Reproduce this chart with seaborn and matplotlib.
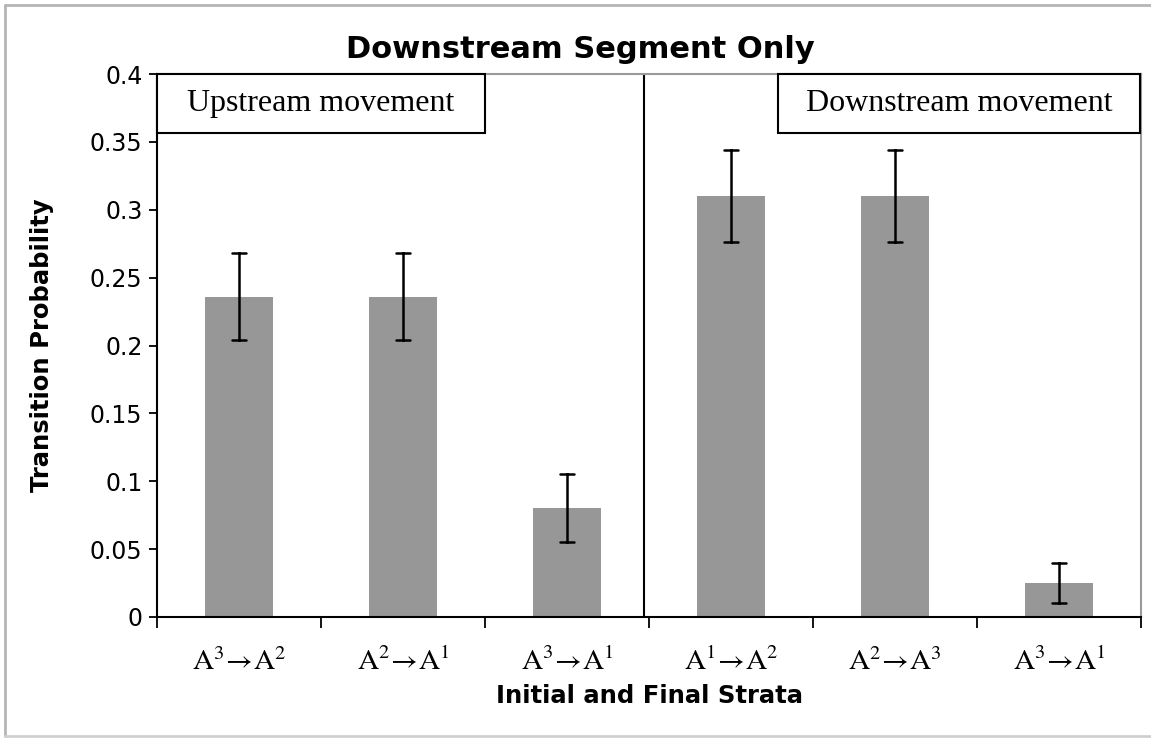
import matplotlib
matplotlib.use("Agg")
import matplotlib.pyplot as plt
import seaborn as sns
import pandas as pd
import numpy as np
from matplotlib.patches import Rectangle
from matplotlib.lines import Line2D

categories = [r"$\mathrm{A}^{3}\!\rightarrow\!\mathrm{A}^{2}$",
              r"$\mathrm{A}^{2}\!\rightarrow\!\mathrm{A}^{1}$",
              r"$\mathrm{A}^{3}\!\rightarrow\!\mathrm{A}^{1}$",
              r"$\mathrm{A}^{1}\!\rightarrow\!\mathrm{A}^{2}$",
              r"$\mathrm{A}^{2}\!\rightarrow\!\mathrm{A}^{3}$",
              r"$\mathrm{A}^{3}\!\rightarrow\!\mathrm{A}^{1}\,$"]
values = [0.236, 0.236, 0.080, 0.310, 0.310, 0.025]
errors = [0.032, 0.032, 0.025, 0.034, 0.034, 0.015]
yticks = [0, 0.05, 0.1, 0.15, 0.2, 0.25, 0.3, 0.35, 0.4]
ytick_labels = ["0", "0.05", "0.1", "0.15", "0.2", "0.25", "0.3", "0.35", "0.4"]
title = "Downstream Segment Only"
xlabel = "Initial and Final Strata"
ylabel = "Transition Probability"
box_left = "Upstream movement"
box_right = "Downstream movement"

# long data: low and high end for each category -> mean is the value, range is the error bar
rows = []
for c, v, e in zip(categories, values, errors):
    rows.append({"cat": c, "val": v - e})
    rows.append({"cat": c, "val": v + e})
df = pd.DataFrame(rows)

sns.set_style("white")
plt.rcParams['font.family'] = ['DejaVu Sans']
plt.rcParams['text.color'] = 'black'
plt.rcParams['axes.labelcolor'] = 'black'
plt.rcParams['xtick.color'] = 'black'
plt.rcParams['ytick.color'] = 'black'
plt.rcParams['mathtext.fontset'] = 'stix'

fig = plt.figure(figsize=(11.51, 7.40), dpi=100)
ax = fig.add_axes([157/1151, 1-617/740, (1141-157)/1151, (617-74)/740])

sns.barplot(data=df, x="cat", y="val", order=categories, ax=ax,
            color="#979797", saturation=1, width=0.41,
            errorbar=lambda x: (x.min(), x.max()), capsize=0.09,
            err_kws={"color": "black", "linewidth": 1.8})
for p in ax.patches:
    p.set_edgecolor("none")

ax.set_ylim(0, 0.4)
ax.set_xlim(-0.5, len(categories) - 0.5)
ax.set_yticks(yticks)
ax.set_yticklabels(ytick_labels, fontsize=17)
ax.tick_params(axis="y", direction="out", length=6, width=1.3, left=True, pad=4.5)

# x ticks at category boundaries, labels at centres
ax.set_xticks(np.arange(-0.5, len(categories), 1.0))
ax.set_xticklabels([])
ax.set_xticks(np.arange(len(categories)), minor=True)
ax.set_xticklabels(categories, minor=True, fontsize=21)
ax.tick_params(axis="x", which="major", direction="out", length=8, width=1.3, bottom=True)
ax.tick_params(axis="x", which="minor", length=0, pad=22)

ax.set_xlabel(xlabel, fontsize=17.5, fontweight="bold")
ax.set_ylabel(ylabel, fontsize=17.5, fontweight="bold")
ax.xaxis.set_label_coords(0.5, -0.123)
ax.yaxis.set_label_coords(-0.105, 0.5)

for s in ["left", "bottom"]:
    ax.spines[s].set_color("black")
    ax.spines[s].set_linewidth(1.5)
for s in ["top", "right"]:
    ax.spines[s].set_visible(True)
    ax.spines[s].set_color("#9a9a9a")
    ax.spines[s].set_linewidth(1.5)

# divider between the two groups
ax.axvline(2.47, color="black", linewidth=1.5)

# boxed annotations
for (x0, x1, txt) in [(0.0, (485-157)/984, box_left), ((778-157)/984, (1140-157)/984, box_right)]:
    y0 = (617-133)/543
    ax.add_patch(Rectangle((x0, y0), x1 - x0, 1 - y0, transform=ax.transAxes,
                           facecolor="white", edgecolor="black", linewidth=1.5, zorder=5,
                           clip_on=False))
    ax.text((x0 + x1) / 2, (y0 + 1) / 2, txt, transform=ax.transAxes, ha="center", va="center",
            fontsize=23, family=["Liberation Serif", "DejaVu Serif"], zorder=6)

fig.text(0.504, 1 - 58/740, title, ha="center", va="baseline", fontsize=22, fontweight="bold")

# outer frame
fig.add_artist(Line2D([5/1151, 5/1151], [1-5/740, 1-736/740], transform=fig.transFigure,
                      color="#b5b5b5", linewidth=2))
fig.add_artist(Line2D([5/1151, 1], [1-5/740, 1-5/740], transform=fig.transFigure,
                      color="#b5b5b5", linewidth=2))
fig.add_artist(Line2D([5/1151, 1], [1-736/740, 1-736/740], transform=fig.transFigure,
                      color="#cfcfcf", linewidth=2))

fig.savefig("out.png", dpi=100)
